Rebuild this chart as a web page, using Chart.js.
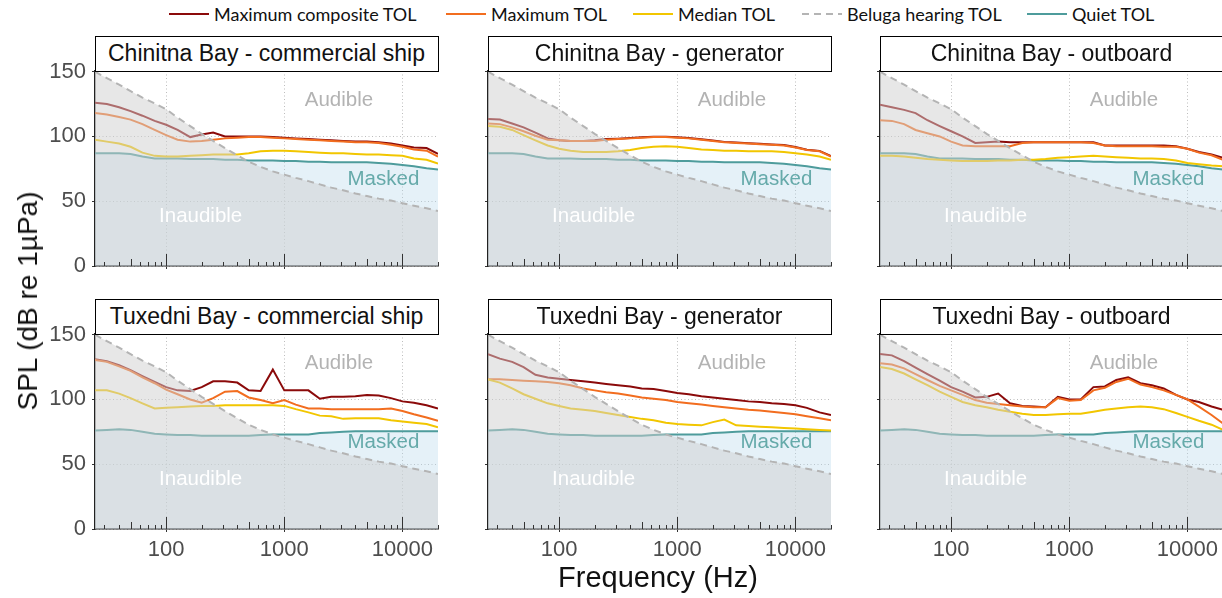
<!DOCTYPE html>
<html>
<head>
<meta charset="utf-8">
<title>TOL spectra vs beluga hearing</title>
<script src="https://cdn.jsdelivr.net/npm/chart.js@4.4.1/dist/chart.umd.min.js"></script>
<style>
  html, body { margin: 0; padding: 0; background: #fff; }
  body { width: 1222px; height: 598px; overflow: hidden; position: relative;
         font-family: "Liberation Sans", Arial, sans-serif; }
  canvas { position: absolute; }
  .strip { position: absolute; box-sizing: border-box; height: 36px; border: 1.5px solid #000;
           background: #fff; display: flex; align-items: center; justify-content: center;
           font-size: 23px; color: #111; z-index: 2; white-space: nowrap; }
  .key { position: absolute; top: 3px; height: 22px; display: flex; align-items: center;
         font-family: Lato, "Liberation Sans", sans-serif; font-size: 18px; color: #111; white-space: nowrap; }
  .key span { margin-left: 5px; }
  .axis-title { position: absolute; color: #111; white-space: nowrap; }
</style>
</head>
<body>
<script>
// one-third octave band centre frequencies (Hz)
const freqs = [25, 31.5, 40, 50, 63, 80, 100, 125, 160, 200, 250, 315, 400, 500, 630, 800,
  1000, 1250, 1600, 2000, 2500, 3150, 4000, 5000, 6300, 8000, 10000, 12500, 16000, 20000];

// beluga hearing threshold expressed as TOL (dB re 1 µPa)
const belugaHearing = [150, 145, 140, 135, 130, 125.5, 121, 114.5, 108, 102, 96.5, 91, 85.5, 80.5, 76.5, 73,
  70.5, 68, 65.5, 63, 60.5, 58.5, 56, 54, 52, 50.5, 48.5, 46.5, 44.5, 42.5];

// quiet ambient TOL per bay
const quietChinitna = [87, 87, 87, 86.5, 84.5, 83, 83, 83, 82.5, 82.5, 82.5, 82, 82, 81.5, 81.5, 81.5,
  81, 81, 80.5, 80.5, 80, 80, 80, 80, 79.5, 79, 78, 77, 75.5, 74.5];
const quietTuxedni = [76, 76.5, 77, 76.5, 75, 73.5, 73, 72.5, 72.5, 72, 72, 72, 72, 72, 72.5, 73,
  73, 73, 73, 74, 74.5, 75, 75.5, 75.5, 75.5, 75.5, 75.5, 75.5, 75.5, 75.5];

// Chinitna Bay - commercial ship
const chinitnaShipMaxComp = [126, 125, 122.5, 119.5, 116, 112, 109, 105, 99.5, 101.5, 103, 100, 100, 100, 100, 99.5,
  99, 98.5, 98, 97.5, 97, 96.5, 96, 96, 95.5, 94.5, 93, 91.5, 91, 86.5];
const chinitnaShipMax = [118, 117, 115, 113, 109.5, 105, 101, 97.5, 96, 96.5, 97.5, 98.5, 99, 99.5, 99.5, 99,
  98.5, 98, 97.5, 97, 96.5, 96, 95.5, 95.5, 95, 93.5, 92, 90, 89, 84.5];
const chinitnaShipMedian = [97.5, 96, 94.5, 92, 87.5, 85, 84.5, 84.5, 85, 85.5, 86, 86, 86, 87, 88.5, 89,
  89, 88.5, 88, 87.5, 87, 87, 86.5, 86, 86, 85.5, 85, 83, 82, 79];

// Chinitna Bay - generator
const chinitnaGenMaxComp = [113.5, 113, 110, 107, 103, 98.5, 97, 96.5, 96.5, 97, 98, 98.3, 98.8, 99.3, 99.8, 99.8,
  99.3, 98.8, 97.8, 96.8, 95.8, 95.3, 94.8, 94.3, 93.8, 93.3, 91.8, 89.8, 88.8, 84.8];
const chinitnaGenMax = [110, 109.5, 107, 104, 100.5, 97.5, 97, 96.5, 96.5, 96.5, 97.5, 98, 98.5, 99, 99.5, 99.5,
  99, 98.5, 97.5, 96.5, 95.5, 95, 94.5, 94, 93.5, 93, 91.5, 89.5, 88.5, 84.5];
const chinitnaGenMedian = [108, 107.5, 105, 101, 97, 93, 90.5, 89, 88, 88, 88, 88.5, 89.5, 91, 92, 92.5,
  92, 91, 90, 89.5, 89, 89, 88.5, 88.5, 88.5, 88, 87, 86, 84.5, 82];

// Chinitna Bay - outboard
const chinitnaOutMaxComp = [124.5, 122.5, 120.5, 118, 112.5, 108, 104, 100, 95, 95.5, 96, 95.5, 95.5, 95.5, 95.5, 95.5,
  95.5, 95.5, 95.5, 93, 93, 93, 93, 93, 93, 92.5, 90.5, 88, 86, 83.5];
const chinitnaOutMax = [112.5, 112, 109.5, 105, 102.5, 100, 96, 93, 92.5, 92.5, 92.5, 92.5, 95, 95.5, 95.5, 95.5,
  95.5, 95.5, 95, 93, 92.5, 92.5, 92.5, 92.5, 92, 92, 90.5, 87.5, 85.5, 82];
const chinitnaOutMedian = [85, 85, 84.5, 83.5, 82.5, 82, 81.5, 81, 81, 81, 81.5, 81.5, 82, 82, 82.5, 83.5,
  84, 84.5, 85, 84.5, 84, 83.5, 83, 83, 82.5, 81.5, 79.5, 78.5, 77.5, 77];

// Tuxedni Bay - commercial ship
const tuxedniShipMaxComp = [131, 129.5, 126.5, 122.5, 118, 113.5, 109.5, 107, 106.5, 109.5, 114, 114, 113, 107, 106.5, 123,
  107, 107, 107, 100.5, 102, 102, 102.5, 103.5, 103, 101, 98.5, 97.5, 95.5, 93];
const tuxedniShipMax = [130.5, 129, 125.5, 122, 117, 112.5, 107.5, 104, 100, 97.5, 101, 106, 106.5, 101.5, 99.5, 97,
  99.5, 96, 93, 93, 92.5, 92.5, 92.5, 92.5, 92.5, 93, 91, 88.5, 86, 83.5];
const tuxedniShipMedian = [107, 107, 104.5, 101, 97, 93, 93.5, 94, 94.5, 95, 95, 95.5, 95.5, 95.5, 95.5, 95.5,
  95, 92.5, 90, 87.5, 87, 85, 85.5, 85.5, 85.5, 84, 83, 82, 81, 78.5];

// Tuxedni Bay - generator
const tuxedniGenMaxComp = [135, 131.5, 129, 125, 119, 117, 116, 115, 114, 113, 112, 111, 110, 108.5, 108, 106.5,
  105, 104, 102.5, 101.5, 100.5, 99.5, 98.5, 98, 97, 96.5, 95.5, 93.5, 90, 88];
const tuxedniGenMax = [115.5, 115.5, 115, 114.5, 114, 113.5, 112.5, 111, 108.5, 107, 105.5, 104.5, 103, 101.5, 100.5, 99.5,
  98, 97, 96, 95, 94, 93, 92, 91.5, 90.5, 89.5, 88.5, 87, 85.5, 84];
const tuxedniGenMedian = [115.5, 113, 108.5, 104, 100.5, 97, 95, 93, 92, 91, 89.5, 88, 86.5, 85, 84, 82,
  81, 80.5, 80, 82.5, 84.5, 80, 79.5, 79, 78.5, 78, 77.5, 77, 76.5, 76];

// Tuxedni Bay - outboard
const tuxedniOutMaxComp = [135, 134, 129.5, 124.5, 119.5, 114.5, 109.5, 106, 101.5, 102, 104.5, 97, 95, 94.5, 94, 102,
  100, 100, 109.5, 110, 115, 117, 112.5, 111, 108.5, 103.5, 100, 98, 94.5, 92];
const tuxedniOutMax = [128, 127, 124, 119.5, 115, 110.5, 107, 103.5, 99.5, 97.5, 96.5, 95.5, 94.5, 94, 94, 101,
  99, 99.5, 107, 109, 113.5, 116, 111.5, 109.5, 107, 103.5, 100, 94.5, 88, 81.5];
const tuxedniOutMedian = [125, 123.5, 120, 115.5, 111, 106, 102, 98, 95.5, 94, 92, 90.5, 89, 88, 88, 88.5,
  89, 89, 90.5, 92, 93, 94, 94.5, 94, 92.5, 89.5, 86.5, 83.5, 80.5, 76.5];

const panelTitles = ['Chinitna Bay - commercial ship', 'Chinitna Bay - generator', 'Chinitna Bay - outboard',
  'Tuxedni Bay - commercial ship', 'Tuxedni Bay - generator', 'Tuxedni Bay - outboard'];
const panelQuiet = [quietChinitna, quietChinitna, quietChinitna, quietTuxedni, quietTuxedni, quietTuxedni];
const panelMaxComp = [chinitnaShipMaxComp, chinitnaGenMaxComp, chinitnaOutMaxComp, tuxedniShipMaxComp, tuxedniGenMaxComp, tuxedniOutMaxComp];
const panelMax = [chinitnaShipMax, chinitnaGenMax, chinitnaOutMax, tuxedniShipMax, tuxedniGenMax, tuxedniOutMax];
const panelMedian = [chinitnaShipMedian, chinitnaGenMedian, chinitnaOutMedian, tuxedniShipMedian, tuxedniGenMedian, tuxedniOutMedian];

const xTickValues = [100, 1000, 10000];
const yTickValues = [0, 50, 100, 150];

const seriesNames = ['Maximum composite TOL', 'Maximum TOL', 'Median TOL', 'Beluga hearing TOL', 'Quiet TOL'];
const seriesColors = ['#8b0a0a', '#f26d1f', '#f2c600', '#b4b4b4', '#4e9c9c'];
const grayFill = 'rgba(208,208,208,0.5)';
const blueFill = 'rgba(180,215,235,0.35)';

// region annotations, placed in data units (Hz, dB)
const regionLabels = [
  { text: 'Audible', f: 2900, db: 128, color: '#b3b3b3' },
  { text: 'Masked', f: 6900, db: 66.5, color: '#66aaaa' },
  { text: 'Inaudible', f: 196, db: 38, color: '#ffffff' }
];

// page geometry
const plotLeft = [95, 488, 880];
const plotTop = [71, 334];
const plotW = 343, plotH = 195;
const padL = 60, padT = 24, padR = 24, padB = 42;

Chart.defaults.font.family = '"Liberation Sans", Arial, sans-serif';

const regionText = {
  id: 'regionText',
  afterDatasetsDraw(chart) {
    const { ctx, scales: { x, y } } = chart;
    ctx.save();
    ctx.font = '20.5px "Liberation Sans", Arial, sans-serif';
    ctx.textAlign = 'center';
    ctx.textBaseline = 'middle';
    regionLabels.forEach(r => {
      ctx.fillStyle = r.color;
      ctx.fillText(r.text, x.getPixelForValue(r.f), y.getPixelForValue(r.db));
    });
    ctx.restore();
  }
};

// ggplot-style log tick marks along the inside of the bottom axis
const logTicks = {
  id: 'logTicks',
  afterDraw(chart) {
    const { ctx, chartArea, scales: { x } } = chart;
    ctx.save();
    ctx.strokeStyle = '#333';
    ctx.lineWidth = 1;
    for (let k = 1; k <= 4; k++) {
      for (let d = 1; d <= 9; d++) {
        const v = d * Math.pow(10, k);
        if (v < 25 || v > 20000) continue;
        const px = Math.round(x.getPixelForValue(v)) + 0.5;
        const len = d === 1 ? 12 : (d === 5 ? 7 : 4);
        ctx.beginPath();
        ctx.moveTo(px, chartArea.bottom);
        ctx.lineTo(px, chartArea.bottom - len);
        ctx.stroke();
      }
    }
    ctx.restore();
  }
};

function points(vals) {
  return freqs.map((f, i) => ({ x: f, y: vals[i] }));
}

function makePanel(idx) {
  const col = idx % 3, row = Math.floor(idx / 3);
  const left = plotLeft[col], top = plotTop[row];

  const cv = document.createElement('canvas');
  cv.width = padL + plotW + padR;
  cv.height = padT + plotH + padB;
  cv.style.left = (left - padL) + 'px';
  cv.style.top = (top - padT) + 'px';
  document.body.appendChild(cv);

  const strip = document.createElement('div');
  strip.className = 'strip';
  strip.style.left = (left - 0.5) + 'px';
  strip.style.top = (top - 36 + 0.5) + 'px';
  strip.style.width = (plotW + 1) + 'px';
  strip.textContent = panelTitles[idx];
  document.body.appendChild(strip);

  new Chart(cv, {
    type: 'line',
    data: {
      datasets: [
        { label: seriesNames[4], data: points(panelQuiet[idx]), borderColor: seriesColors[4],
          fill: 'origin', backgroundColor: blueFill, order: 5 },
        { label: seriesNames[0], data: points(panelMaxComp[idx]), borderColor: seriesColors[0], fill: false, order: 4 },
        { label: seriesNames[1], data: points(panelMax[idx]), borderColor: seriesColors[1], fill: false, order: 3 },
        { label: seriesNames[2], data: points(panelMedian[idx]), borderColor: seriesColors[2], fill: false, order: 2 },
        { label: seriesNames[3], data: points(belugaHearing), borderColor: seriesColors[3], borderDash: [7, 5],
          fill: 'origin', backgroundColor: grayFill, order: 1 }
      ]
    },
    options: {
      responsive: false,
      animation: false,
      events: [],
      layout: { padding: { left: 0, top: padT, right: padR, bottom: 0 } },
      plugins: { legend: { display: false }, tooltip: { enabled: false }, filler: { drawTime: 'beforeDatasetDraw' } },
      elements: { point: { radius: 0 }, line: { borderWidth: 2, tension: 0 } },
      scales: {
        x: {
          type: 'logarithmic', min: 25, max: 20000, bounds: 'data',
          afterBuildTicks: s => { s.ticks = xTickValues.map(v => ({ value: v })); },
          afterFit: s => { s.height = padB; },
          ticks: { display: row === 1, color: '#4d4d4d', font: { size: 22 }, padding: 5,
                   maxRotation: 0, autoSkip: false, callback: v => String(v) },
          grid: { color: '#bdbdbd', lineWidth: 1, drawTicks: true, tickLength: 3, tickColor: '#333', tickWidth: 1 },
          border: { display: true, color: '#222', width: 1.5, dash: [1, 2.5] }
        },
        y: {
          min: 0, max: 150.5,
          afterBuildTicks: s => { s.ticks = yTickValues.map(v => ({ value: v })); },
          afterFit: s => { s.width = padL; },
          ticks: { display: col === 0, color: '#4d4d4d', font: { size: 22 }, padding: 6 },
          grid: { color: '#bdbdbd', lineWidth: 1, drawTicks: true, tickLength: 3, tickColor: '#333', tickWidth: 1 },
          border: { display: true, color: '#222', width: 1.5, dash: [1, 2.5] }
        }
      }
    },
    plugins: [regionText, logTicks]
  });
}

for (let i = 0; i < 6; i++) makePanel(i);

// legend across the top
const keyLeft = [169, 446, 633, 802, 1027];
seriesNames.forEach((name, s) => {
  const item = document.createElement('div');
  item.className = 'key';
  item.style.left = keyLeft[s] + 'px';
  const dash = s === 3 ? ' stroke-dasharray="7,5"' : '';
  item.innerHTML = '<svg width="40" height="4"><line x1="0" y1="2" x2="40" y2="2" stroke="' +
    seriesColors[s] + '" stroke-width="2"' + dash + '/></svg><span>' + name + '</span>';
  document.body.appendChild(item);
});

// axis titles
const xTitle = document.createElement('div');
xTitle.className = 'axis-title';
xTitle.style.fontSize = '29px';
xTitle.style.left = '658px';
xTitle.style.top = '577px';
xTitle.style.transform = 'translate(-50%, -50%)';
xTitle.textContent = 'Frequency (Hz)';
document.body.appendChild(xTitle);

const yTitle = document.createElement('div');
yTitle.className = 'axis-title';
yTitle.style.fontSize = '28px';
yTitle.style.left = '28px';
yTitle.style.top = '301px';
yTitle.style.transform = 'translate(-50%, -50%) rotate(-90deg)';
yTitle.textContent = 'SPL (dB re 1µPa)';
document.body.appendChild(yTitle);
</script>
</body>
</html>
